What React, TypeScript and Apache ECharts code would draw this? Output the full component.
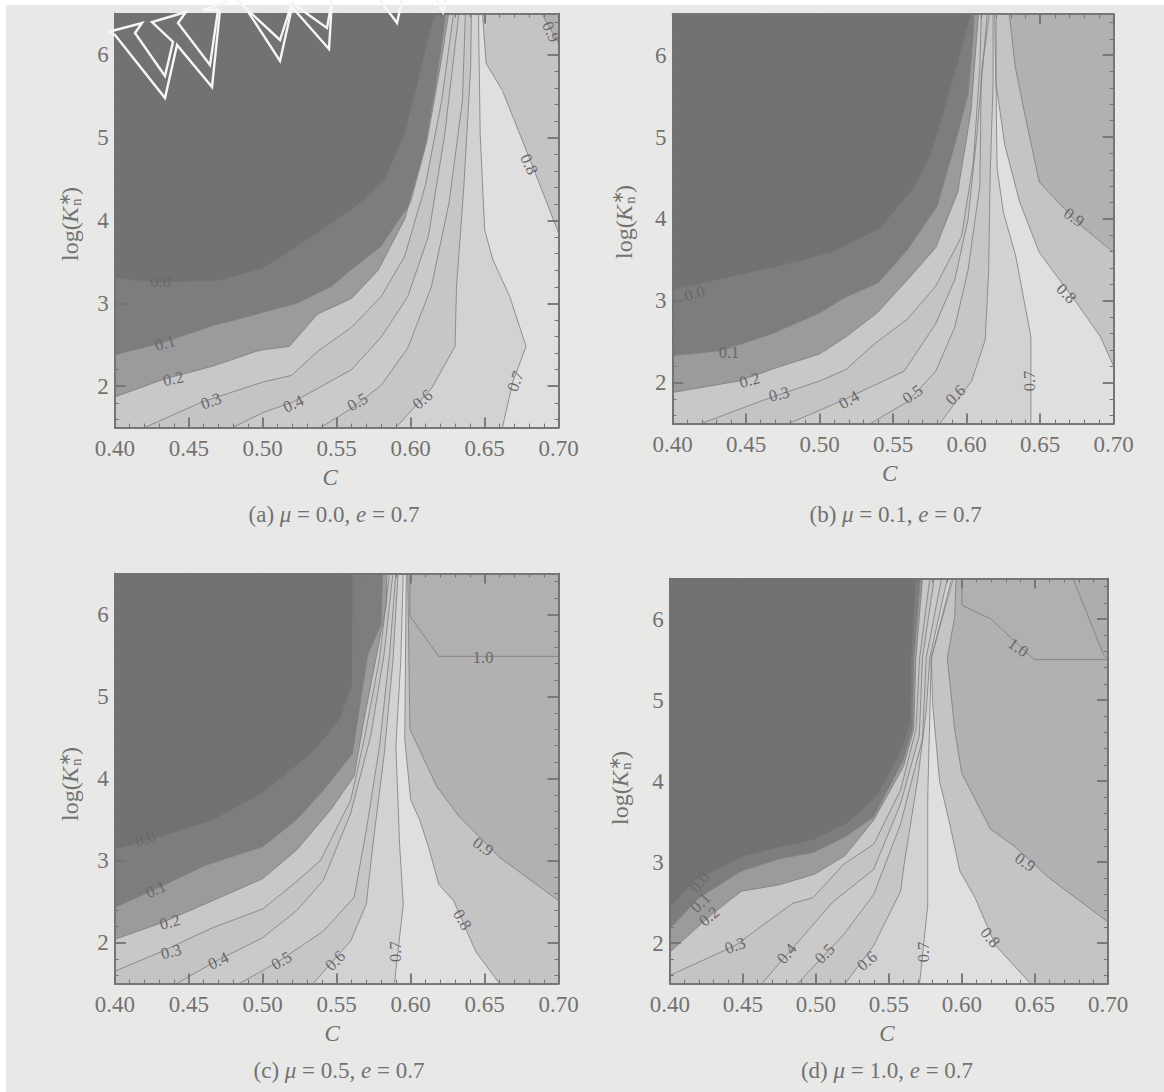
import React, { useEffect, useRef } from "react";
import * as echarts from "echarts";

const LEVELS = [0.0, 0.1, 0.2, 0.3, 0.4, 0.5, 0.6, 0.7, 0.8, 0.9, 1.0, 1.1];
const X_MAJOR = [0.4, 0.45, 0.5, 0.55, 0.6, 0.65, 0.7];
const Y_MAJOR = [2, 3, 4, 5, 6];
const X_MINOR = [0.41,0.42,0.43,0.44,0.46,0.47,0.48,0.49,0.51,0.52,0.53,0.54,0.56,0.57,0.58,0.59,0.61,0.62,0.63,0.64,0.66,0.67,0.68,0.69];
const Y_MINOR = [1.6,1.8,2.2,2.4,2.6,2.8,3.2,3.4,3.6,3.8,4.2,4.4,4.6,4.8,5.2,5.4,5.6,5.8,6.2,6.4];

const contoursA: number[][][] = [
  [[0.4,3.3],[0.43,3.25],[0.47,3.27],[0.5,3.42],[0.534,3.81],[0.564,4.18],[0.582,4.47],[0.596,5.04],[0.605,5.65],[0.612,6.2],[0.617,6.5]],
  [[0.4,2.38],[0.4315,2.52],[0.466,2.73],[0.5,2.89],[0.523,3.0],[0.546,3.2],[0.562,3.44],[0.58,3.69],[0.6,4.22],[0.609,4.83],[0.617,5.65],[0.622,6.27],[0.6235,6.5]],
  [[0.4,1.87],[0.434,2.09],[0.466,2.24],[0.4955,2.42],[0.5,2.44],[0.518,2.48],[0.537,2.87],[0.56,3.06],[0.578,3.4],[0.596,4.02],[0.611,4.96],[0.62,5.86],[0.6257,6.5]],
  [[0.42,1.5],[0.459,1.81],[0.5,2.05],[0.5195,2.13],[0.537,2.42],[0.56,2.71],[0.58,3.08],[0.596,3.57],[0.61,4.43],[0.621,5.45],[0.629,6.5]],
  [[0.4795,1.5],[0.5,1.68],[0.5206,1.81],[0.56,2.2],[0.58,2.59],[0.598,3.08],[0.612,3.81],[0.623,5.04],[0.6326,6.5]],
  [[0.539,1.5],[0.56,1.73],[0.58,2.01],[0.598,2.46],[0.614,3.2],[0.626,4.22],[0.635,5.45],[0.637,6.5]],
  [[0.59,1.5],[0.614,1.97],[0.63,2.48],[0.631,3.2],[0.636,4.43],[0.6406,5.86],[0.641,6.5]],
  [[0.662,1.5],[0.669,2.05],[0.678,2.48],[0.667,3.08],[0.6555,3.53],[0.65,3.89],[0.647,5.04],[0.646,6.27],[0.646,6.5]],
  [[0.7,3.85],[0.683,4.63],[0.662,5.57],[0.651,5.9],[0.6485,6.5]],
  [[0.7,6.14],[0.6885,6.5]],
];
const labelsA: number[][] = [
  [0.431,3.27,0],[0.434,2.52,15],[0.4395,2.09,12],[0.465,1.82,20],[0.5206,1.79,25],[0.564,1.81,30],[0.608,1.84,40],[0.6707,2.06,70],[0.68,4.68,-65],[0.695,6.28,-65],
];

const contoursB: number[][][] = [
  [[0.4,3.13],[0.433,3.26],[0.472,3.42],[0.509,3.59],[0.541,3.88],[0.564,4.37],[0.575,4.75],[0.583,5.2],[0.594,5.9],[0.603,6.5]],
  [[0.4,2.33],[0.433,2.39],[0.468,2.6],[0.5,2.85],[0.518,3.05],[0.54,3.22],[0.56,3.63],[0.58,4.16],[0.592,4.91],[0.601,5.53],[0.6046,6.27],[0.605,6.5]],
  [[0.4,1.88],[0.445,2.02],[0.472,2.19],[0.5,2.35],[0.518,2.56],[0.539,2.85],[0.56,3.26],[0.579,3.65],[0.594,4.33],[0.603,5.32],[0.608,6.5]],
  [[0.4195,1.5],[0.4655,1.81],[0.5,2.02],[0.518,2.16],[0.537,2.47],[0.56,2.78],[0.579,3.18],[0.5966,3.79],[0.6046,4.7],[0.609,5.86],[0.61,6.5]],
  [[0.479,1.5],[0.514,1.77],[0.5575,2.14],[0.579,2.72],[0.592,3.26],[0.601,4.0],[0.607,5.03],[0.614,6.5]],
  [[0.5345,1.5],[0.56,1.77],[0.579,2.14],[0.592,2.68],[0.601,3.38],[0.609,4.41],[0.61,5.77],[0.6154,6.5]],
  [[0.5816,1.5],[0.6034,2.02],[0.6126,2.52],[0.615,3.38],[0.616,4.54],[0.618,5.65],[0.618,6.5]],
  [[0.6437,1.5],[0.6437,2.56],[0.6333,3.55],[0.625,4.08],[0.6207,4.62],[0.62,5.65],[0.619,6.5]],
  [[0.7,2.2],[0.691,2.56],[0.675,2.97],[0.6494,3.59],[0.636,4.21],[0.626,4.9],[0.62,5.65],[0.62,6.5]],
  [[0.7,3.59],[0.675,3.96],[0.6494,4.45],[0.64,5.24],[0.633,5.86],[0.629,6.5]],
];
const labelsB: number[][] = [
  [0.415,3.09,15],[0.4384,2.37,0],[0.4524,2.03,15],[0.4724,1.86,15],[0.52,1.79,30],[0.5632,1.86,35],[0.5924,1.85,45],[0.6425,2.02,90],[0.6678,3.09,-45],[0.673,4.02,-35],
];

const contoursC: number[][][] = [
  [[0.4,3.13],[0.4315,3.29],[0.466,3.49],[0.5,3.82],[0.534,4.32],[0.5526,4.73],[0.5606,5.14],[0.561,6.25],[0.561,6.5]],
  [[0.4,2.43],[0.425,2.63],[0.461,2.94],[0.5,3.17],[0.523,3.5],[0.541,3.86],[0.5606,4.3],[0.565,4.81],[0.571,5.51],[0.58,5.88],[0.581,6.5]],
  [[0.4,2.04],[0.4315,2.24],[0.466,2.51],[0.5,2.78],[0.523,3.13],[0.546,3.62],[0.5618,4.03],[0.5686,4.73],[0.5766,5.47],[0.5835,6.12],[0.584,6.5]],
  [[0.4,1.65],[0.4315,1.89],[0.466,2.18],[0.5,2.41],[0.5206,2.71],[0.539,3.0],[0.5595,3.74],[0.5686,4.48],[0.579,5.47],[0.5857,6.5]],
  [[0.4418,1.5],[0.468,1.77],[0.5,2.06],[0.523,2.39],[0.541,2.76],[0.5595,3.58],[0.573,4.52],[0.582,5.51],[0.588,6.5]],
  [[0.484,1.5],[0.509,1.75],[0.541,2.14],[0.5618,2.55],[0.57,3.37],[0.579,4.4],[0.5857,5.51],[0.59,6.5]],
  [[0.534,1.5],[0.5595,2.02],[0.57,2.47],[0.5743,3.17],[0.582,4.28],[0.588,5.43],[0.5915,6.5]],
  [[0.589,1.5],[0.595,2.47],[0.5926,3.17],[0.59,4.4],[0.5933,5.43],[0.595,6.5]],
  [[0.66,1.5],[0.644,1.89],[0.629,2.51],[0.619,2.71],[0.612,3.17],[0.606,3.5],[0.6,3.74],[0.596,4.48],[0.597,6.5]],
  [[0.7,2.51],[0.66,3.04],[0.6326,3.54],[0.6177,3.9],[0.5995,4.6],[0.598,6.5]],
  [[0.7,5.49],[0.619,5.49],[0.5995,5.98],[0.5995,6.5]],
];
const labelsC: number[][] = [
  [0.4205,3.27,20],[0.4276,2.65,25],[0.4372,2.25,15],[0.438,1.89,15],[0.47,1.78,25],[0.5126,1.78,30],[0.549,1.78,45],[0.59,1.89,90],[0.635,2.28,-60],[0.649,3.17,-35],[0.649,5.47,0],
];

const contoursD: number[][][] = [
  [[0.4,2.43],[0.417,2.76],[0.449,3.06],[0.475,3.18],[0.498,3.27],[0.521,3.47],[0.542,3.81],[0.558,4.35],[0.565,4.73],[0.5655,5.48],[0.5685,6.5]],
  [[0.4,2.18],[0.42,2.56],[0.449,2.89],[0.475,3.04],[0.498,3.12],[0.52,3.31],[0.5396,3.56],[0.56,4.27],[0.566,4.64],[0.567,5.52],[0.5715,6.5]],
  [[0.4,1.89],[0.4285,2.35],[0.449,2.64],[0.475,2.72],[0.499,2.85],[0.52,3.08],[0.5396,3.52],[0.56,4.18],[0.567,4.64],[0.5685,5.52],[0.573,6.5]],
  [[0.4,1.6],[0.4447,1.97],[0.484,2.49],[0.498,2.56],[0.5188,2.97],[0.5396,3.22],[0.558,3.89],[0.5685,4.64],[0.571,5.52],[0.578,6.5]],
  [[0.463,1.5],[0.4817,1.89],[0.5118,2.51],[0.5396,2.91],[0.558,3.72],[0.5708,4.56],[0.573,5.52],[0.581,6.5]],
  [[0.4875,1.5],[0.5188,2.1],[0.5396,2.6],[0.558,3.47],[0.573,4.52],[0.5755,5.52],[0.586,6.5]],
  [[0.52,1.5],[0.5396,1.97],[0.558,2.64],[0.5604,2.97],[0.5697,4.02],[0.5755,4.85],[0.578,5.52],[0.59,6.5]],
  [[0.571,1.5],[0.5766,2.47],[0.5766,3.81],[0.579,5.52],[0.593,6.5]],
  [[0.647,1.5],[0.623,1.97],[0.609,2.56],[0.5986,2.89],[0.5917,3.47],[0.5847,4.0],[0.58,4.94],[0.579,5.52],[0.594,6.5]],
  [[0.7,2.26],[0.66,2.8],[0.637,3.18],[0.6194,3.41],[0.5998,4.1],[0.595,4.64],[0.59,5.52],[0.595,6.02],[0.596,6.5]],
  [[0.7,5.5],[0.6495,5.5],[0.62,6.0],[0.6,6.17],[0.6,6.5]],
  [[0.7,5.5],[0.697,5.56],[0.676,6.5]],
];
const labelsD: number[][] = [
  [0.4204,2.75,50],[0.421,2.5,45],[0.4269,2.33,40],[0.4447,1.97,20],[0.48,1.87,50],[0.506,1.87,45],[0.535,1.78,40],[0.5736,1.89,90],[0.6194,2.07,-50],[0.6433,3.0,-35],[0.6386,5.65,-35],
];

const BAND_COLORS = ["#7d7d7d","#9b9b9b","#c8c8c8","#c4c4c4","#cacaca","#c6c6c6","#d2d2d2","#dfdfdf","#c4c4c4","#b1b1b1","#b0b0b0","#adadad"];
const LINE_COLORS = ["#7d7d7d","#828282","#7c7c7c","#7c7c7c","#7c7c7c","#7c7c7c","#7c7c7c","#7c7c7c","#7c7c7c","#7c7c7c","#7c7c7c","#7c7c7c"];
const DARKEST = "#727272";
const INK = "#727272";
const PAPER = "#e8e8e7";
const SERIF = '"Liberation Serif", serif';

const XMIN = 0.4, XMAX = 0.7, YMIN = 1.5, YMAX = 6.5;

const PANELS = [
  { caption: "{r|(a) }{i|μ}{r| = 0.0, }{i|e}{r| = 0.7}", contours: contoursA, labels: labelsA, box: [114.8, 13.5, 558.6, 427.6], capX: 329, capY: 515.5, namePad: 13, yLab: [70, 222] },
  { caption: "{r|(b) }{i|μ}{r| = 0.1, }{i|e}{r| = 0.7}", contours: contoursB, labels: labelsB, box: [672.5, 14.2, 1113.7, 423.6], capX: 890.6, capY: 516, namePad: 7, yLab: [623.5, 220] },
  { caption: "{r|(c) }{i|μ}{r| = 0.5, }{i|e}{r| = 0.7}", contours: contoursC, labels: labelsC, box: [114.8, 573.5, 558.6, 983.6], capX: 334, capY: 1072, namePad: 9, yLab: [70, 782] },
  { caption: "{r|(d) }{i|μ}{r| = 1.0, }{i|e}{r| = 0.7}", contours: contoursD, labels: labelsD, box: [669.8, 578.6, 1108, 983.6], capX: 882, capY: 1072, namePad: 4, yLab: [620, 786] },
];

function borderParam(p: number[]): number {
  const e = 1e-6;
  if (p[1] >= YMAX - e) return (p[0] - XMIN) / (XMAX - XMIN);
  if (p[0] >= XMAX - e) return 1 + (YMAX - p[1]) / (YMAX - YMIN);
  if (p[1] <= YMIN + e) return 2 + (XMAX - p[0]) / (XMAX - XMIN);
  return 3 + (p[1] - YMIN) / (YMAX - YMIN);
}

function closeRegion(pts: number[][]): number[][] {
  const corners = [[XMIN, YMAX], [XMAX, YMAX], [XMAX, YMIN], [XMIN, YMIN]];
  const endP = borderParam(pts[pts.length - 1]);
  let startP = borderParam(pts[0]);
  if (startP <= endP) startP += 4;
  const out = pts.slice();
  for (let c = 1; c < 8; c++) if (c > endP && c < startP) out.push(corners[c % 4]);
  return out;
}

function axisBase(gridIndex: number, min: number, max: number, position: string, z = 5) {
  return {
    type: "value", gridIndex, min, max, position, z, silent: true,
    splitLine: { show: false }, minorTick: { show: false },
    axisLine: { show: true, onZero: false, lineStyle: { color: INK, width: 1.6 } },
    axisLabel: { show: false },
  };
}

function buildAxes(gi: number, namePad: number) {
  const tick = (values: number[], length: number, width: number) => ({
    show: true, inside: true, length, customValues: values, lineStyle: { color: INK, width },
  });
  const xAxes = [
    {
      ...axisBase(gi, XMIN, XMAX, "bottom"),
      axisTick: tick(X_MAJOR, 10, 1.8),
      axisLabel: { show: true, customValues: X_MAJOR, margin: 9, color: INK, fontFamily: SERIF, fontSize: 23, formatter: (v: number) => v.toFixed(2) },
      name: "C", nameLocation: "middle", nameGap: 38,
      nameTextStyle: { color: INK, fontFamily: SERIF, fontStyle: "italic", fontSize: 23, padding: [0, namePad, 0, 0] },
    },
    { ...axisBase(gi, XMIN, XMAX, "top"), axisTick: tick(X_MAJOR, 10, 1.8) },
    { ...axisBase(gi, XMIN, XMAX, "bottom"), axisTick: tick(X_MINOR, 4, 1) },
    { ...axisBase(gi, XMIN, XMAX, "top"), axisTick: tick(X_MINOR, 4, 1) },
  ];
  const yAxes = [
    {
      ...axisBase(gi, YMIN, YMAX, "left"),
      axisTick: tick(Y_MAJOR, 11, 1.8),
      axisLabel: { show: true, customValues: Y_MAJOR, margin: 6, color: INK, fontFamily: SERIF, fontSize: 23, formatter: (v: number) => String(v) },
    },
    { ...axisBase(gi, YMIN, YMAX, "right"), axisTick: tick(Y_MAJOR, 11, 1.8) },
    { ...axisBase(gi, YMIN, YMAX, "left"), axisTick: tick(Y_MINOR, 4, 1) },
    { ...axisBase(gi, YMIN, YMAX, "right"), axisTick: tick(Y_MINOR, 4, 1) },
  ];
  return { xAxes, yAxes };
}

function buildSeries(gi: number, contours: number[][][], labels: number[][]) {
  const axisRef = { xAxisIndex: gi * 4, yAxisIndex: gi * 4 };
  const series: any[] = [];
  series.push({
    type: "custom", ...axisRef, z: 1, silent: true,
    data: contours.map((c) => [c[0][0], c[0][1]]),
    renderItem: (params: any, api: any) => {
      const pts = closeRegion(contours[params.dataIndex]).map((p) => api.coord(p));
      return { type: "polygon", shape: { points: pts }, style: { fill: BAND_COLORS[params.dataIndex] } };
    },
  });
  contours.forEach((c, i) => {
    series.push({
      type: "line", ...axisRef, z: 2, silent: true, symbol: "none", name: LEVELS[i].toFixed(1),
      data: c, lineStyle: { color: LINE_COLORS[i], width: 0.8 }, smooth: false,
    });
  });
  series.push({
    type: "custom", ...axisRef, z: 3, silent: true,
    data: labels.map((l) => [l[0], l[1]]),
    renderItem: (params: any, api: any) => {
      const l = labels[params.dataIndex];
      const c = api.coord([l[0], l[1]]);
      return {
        type: "text", x: c[0], y: c[1], rotation: (l[2] * Math.PI) / 180,
        style: {
          text: LEVELS[params.dataIndex].toFixed(1), fill: "#686868",
          font: `16.5px ${SERIF}`, align: "center", verticalAlign: "middle",
        },
      };
    },
  });
  return series;
}

function yLabelGraphic(x: number, y: number) {
  const t = (left: number, top: number, text: string, size: number, italic = false) => ({
    type: "text", x: left, y: top, z: 20,
    style: { text, fill: INK, font: `${italic ? "italic " : ""}${size}px ${SERIF}`, align: "left", verticalAlign: "middle" },
  });
  return {
    type: "group", x, y, rotation: Math.PI / 2, z: 20,
    children: [t(-39, 0, "log(", 24), t(-1, 0, "K", 24, true), t(16, -6, "∗", 16), t(16, 6, "n", 15), t(27, 0, ")", 24)],
  };
}

const WATERMARK = [
  [[108,32],[142,23],[135,33],[165,76],[173,42],[152,22],[186,12],[178,23],[210,65],[218,10],[203,10],[227,2]],
  [[108,32],[115,35],[165,98],[177,45],[212,87],[220,10]],
  [[237,0],[280,40],[292,3],[327,28],[332,0]],
  [[247,10],[280,61],[292,7],[329,49],[332,0]],
  [[380,0],[397,23],[402,0]],
  [[437,0],[443,12],[446,0]],
];

export default function App() {
  const ref = useRef<HTMLDivElement>(null);
  useEffect(() => {
    document.body.style.margin = "0";
    const chart = echarts.init(ref.current!, undefined, { renderer: "svg" });
    const grid: any[] = [], xAxis: any[] = [], yAxis: any[] = [], series: any[] = [], title: any[] = [];
    const graphic: any[] = [
      { type: "rect", shape: { x: 0, y: 0, width: 1164, height: 5 }, style: { fill: "#ffffff" }, z: 15 },
      { type: "rect", shape: { x: 0, y: 0, width: 6, height: 1092 }, style: { fill: "#ffffff" }, z: 15 },
    ];
    PANELS.forEach((p, i) => {
      const [l, t, r, b] = p.box;
      grid.push({ left: l, top: t, width: r - l, height: b - t, show: true, backgroundColor: DARKEST, borderWidth: 0, containLabel: false });
      const { xAxes, yAxes } = buildAxes(i, p.namePad);
      xAxis.push(...xAxes);
      yAxis.push(...yAxes);
      series.push(...buildSeries(i, p.contours, p.labels));
      title.push({
        text: p.caption, left: p.capX, top: p.capY - 18, textAlign: "center",
        textStyle: {
          rich: {
            r: { fontFamily: SERIF, fontSize: 23, fontWeight: "normal", color: INK },
            i: { fontFamily: SERIF, fontStyle: "italic", fontWeight: "normal", fontSize: 23, color: INK },
          },
        },
      });
      graphic.push(yLabelGraphic(p.yLab[0], p.yLab[1]));
    });
    WATERMARK.forEach((pts) => {
      graphic.push({
        type: "polyline", z: 30, shape: { points: pts },
        style: { stroke: "#f6f6f6", lineWidth: 2.4, fill: "none", lineJoin: "miter" },
      });
    });
    chart.setOption({ animation: false, backgroundColor: PAPER, title, grid, xAxis, yAxis, series, graphic });
    return () => chart.dispose();
  }, []);
  return <div ref={ref} style={{ width: 1164, height: 1092 }} />;
}
